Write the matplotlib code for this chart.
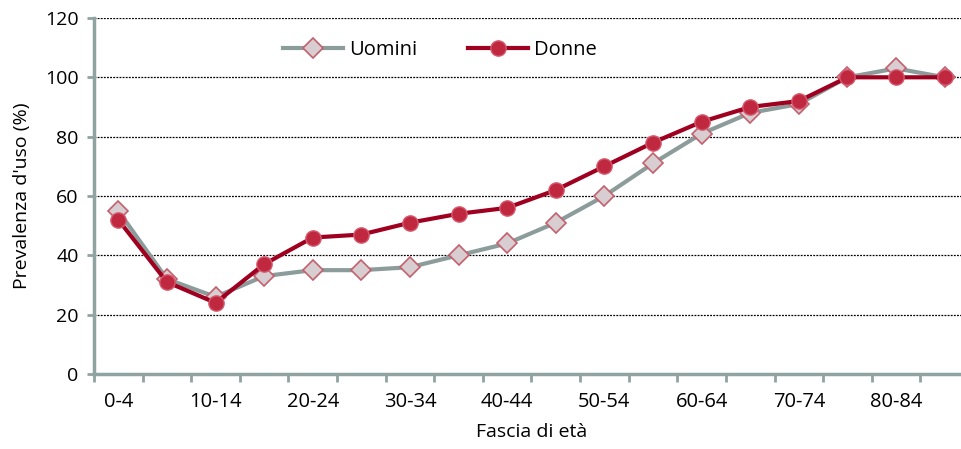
import matplotlib
matplotlib.use("Agg")
import matplotlib.pyplot as plt

plt.rcParams['font.family'] = ['Open Sans', 'DejaVu Sans']

fasce = ['0-4', '5-9', '10-14', '15-19', '20-24', '25-29', '30-34', '35-39',
         '40-44', '45-49', '50-54', '55-59', '60-64', '65-69', '70-74',
         '75-79', '80-84', '85+']
uomini = [55, 32, 26, 33, 35, 35, 36, 40, 44, 51, 60, 71, 81, 88, 91, 100, 103, 100]
donne = [52, 31, 24, 37, 46, 47, 51, 54, 56, 62, 70, 78, 85, 90, 92, 100, 100, 100]
yticks = [0, 20, 40, 60, 80, 100, 120]

axis_grey = '#8fa3a1'

fig = plt.figure(figsize=(9.61, 4.49), dpi=100)
ax = fig.add_axes([0.0978, 0.167, 0.9105, 0.793])

x = list(range(len(fasce)))
ax.plot(x, uomini, color='#8c9c9a', lw=3, marker='D', ms=10,
        mfc='#d8cdd0', mec='#c4606e', mew=1.2, label='Uomini', zorder=3)
ax.plot(x, donne, color='#a00020', lw=3, marker='o', ms=11,
        mfc='#c0283f', mec='#d55a6e', mew=1, label='Donne', zorder=4)

ax.set_xlim(-0.5, len(fasce) - 0.5)
ax.set_ylim(0, 120)
ax.set_yticks(yticks)
ax.set_yticklabels([str(v) for v in yticks], fontsize=14)

# category labels every other group, ticks on group boundaries
ax.set_xticks(x[::2])
ax.set_xticklabels(fasce[::2], fontsize=14.5)
ax.tick_params(axis='x', length=0, pad=13)
ax.set_xticks([i - 0.5 for i in range(len(fasce) + 1)], minor=True)
ax.tick_params(axis='x', which='minor', length=6, width=2, color=axis_grey)
ax.tick_params(axis='y', length=5, width=2, color=axis_grey, pad=6)

for v in yticks[1:]:
    ax.axhline(v, color='black', lw=0.9, ls=(0, (1.5, 1)), zorder=1)

for s in ['top', 'right']:
    ax.spines[s].set_visible(False)
for s in ['left', 'bottom']:
    ax.spines[s].set_color(axis_grey)
    ax.spines[s].set_linewidth(2.5)

ax.set_xlabel('Fascia di età', fontsize=14, labelpad=8)
ax.set_ylabel("Prevalenza d'uso (%)", fontsize=14, labelpad=10)

ax.legend(loc='upper left', bbox_to_anchor=(0.195, 0.99), ncol=2, frameon=False,
          fontsize=14.5, handlelength=3, columnspacing=2.5, handletextpad=0.3)

fig.savefig('out.png', dpi=100)
